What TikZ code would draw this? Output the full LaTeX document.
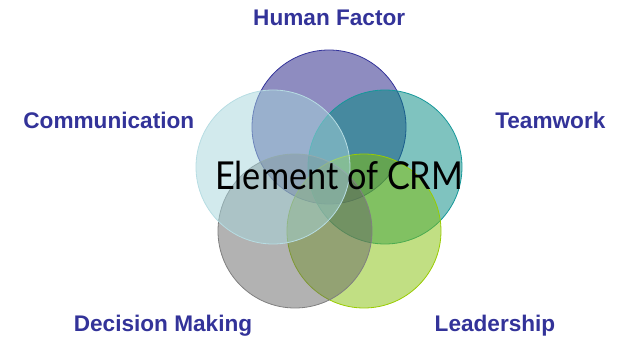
\documentclass[tikz,border=0pt]{standalone}
\usepackage{fontspec}
\setmainfont{Liberation Sans}
\newfontfamily\centerfont{Lato}[FakeStretch=0.89]
\definecolor{labelblue}{HTML}{333399}
\definecolor{hfFill}{HTML}{1D1981}
\definecolor{hfDraw}{HTML}{33339A}
\definecolor{twFill}{HTML}{00877F}
\definecolor{twDraw}{HTML}{15989A}
\definecolor{ldFill}{HTML}{83BF07}
\definecolor{ldDraw}{HTML}{99CC00}
\definecolor{dmFill}{HTML}{656565}
\definecolor{dmDraw}{HTML}{808080}
\definecolor{cmFill}{HTML}{A5D5DB}
\definecolor{cmDraw}{HTML}{B7DDE3}
\tikzset{
  petal/.style={circle, inner sep=0pt, minimum size=154pt, line width=0.8pt, fill opacity=0.5},
  lab/.style={anchor=base, inner sep=0pt, text=labelblue, font=\fontsize{22.6}{27}\selectfont\bfseries}
}
\begin{document}
\begin{tikzpicture}[x=1pt,y=1pt]
\useasboundingbox (0,0) rectangle (619,340);
\node[petal, draw=hfDraw, fill=hfFill] (hf) at (329,213) {};
\node[petal, draw=twDraw, fill=twFill] (tw) at (385,173) {};
\node[petal, draw=ldDraw, fill=ldFill] (ld) at (364,109) {};
\node[petal, draw=dmDraw, fill=dmFill] (dm) at (295,109) {};
\node[petal, draw=cmDraw, fill=cmFill] (cm) at (273,173) {};
\node[anchor=base, inner sep=0pt, font=\centerfont\fontsize{38.5}{44}\selectfont] (crm) at (339.2,150) {Element of CRM};
\node[lab] (lhf) at (329.2,314) {Human Factor};
\node[lab] (lcm) at (108.8,211.7) {Communication};
\node[lab] (ltw) at (550.3,211.7) {Teamwork};
\node[lab] (ldm) at (163,8.3) {Decision Making};
\node[lab] (lld) at (495,8.3) {Leadership};
\end{tikzpicture}
\end{document}
